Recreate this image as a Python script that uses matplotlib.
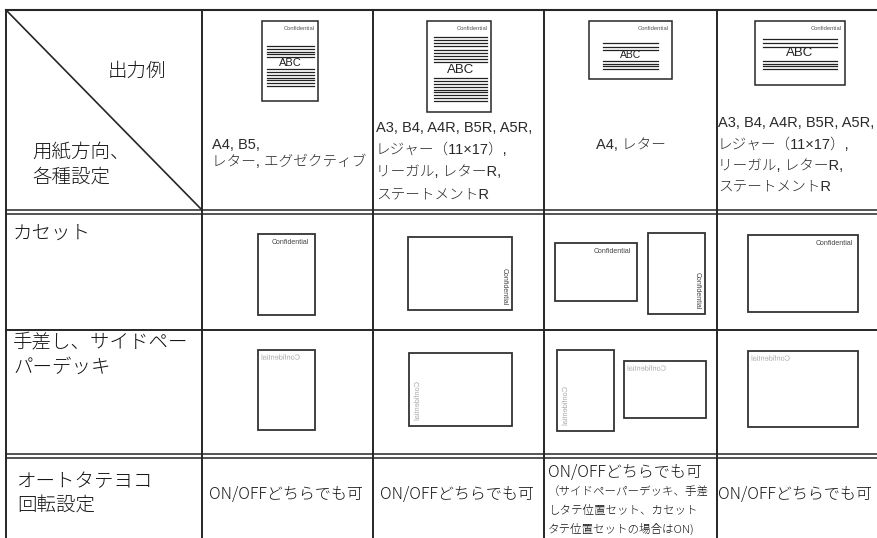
import matplotlib
matplotlib.use('Agg')
import matplotlib.pyplot as plt
from matplotlib.patches import Rectangle, PathPatch
from matplotlib.textpath import TextPath
from matplotlib.font_manager import FontProperties
from matplotlib.transforms import Affine2D

plt.rcParams['font.family'] = ['Noto Sans CJK JP', 'DejaVu Sans']

# --- table contents ---
corner_top = '出力例'
corner_bottom = ['用紙方向、', '各種設定']
row_labels = [['カセット'], ['手差し、サイドペー', 'パーデッキ'], ['オートタテヨコ', '回転設定']]
paper_sizes = [
    ['A4, B5,', 'レター, エグゼクティブ'],
    ['A3, B4, A4R, B5R, A5R,', 'レジャー（11×17）,', 'リーガル, レターR,', 'ステートメントR'],
    ['A4, レター'],
    ['A3, B4, A4R, B5R, A5R,', 'レジャー（11×17）,', 'リーガル, レターR,', 'ステートメントR'],
]
auto_rotate = ['ON/OFFどちらでも可'] * 4
auto_note = ['（サイドペーパーデッキ、手差', 'しタテ位置セット、カセット', 'タテ位置セットの場合はON)']

# sample output icons: number of text lines above / below "ABC"
sample_lines_top = [5, 9, 3, 3]
sample_lines_bottom = [7, 9, 4, 4]

# --- layout (pixels) ---
col_x = [6, 202, 373, 544, 717, 877]
# header icons: box, top lines span, abc y, bottom lines span, line x span, abc size
hdr_icons = [
    ((262, 21, 318, 101), (46, 57), 63, (69, 86), (267, 314), 8),
    ((427, 21, 491, 112), (37, 62), 70, (78, 101), (434, 487), 9.5),
    ((589, 21, 672, 79), (43, 50), 55.5, (61, 69), (603, 658), 7.5),
    ((755, 21, 845, 85), (39, 47), 53, (61, 69), (763, 837), 9.5),
]
# paper placement for cassette / manual feed rows: (box, label position)
cassette_pages = [
    [((258, 234, 315, 315), 'top')],
    [((408, 237, 512, 310), 'side')],
    [((555, 243, 637, 301), 'top'), ((648, 233, 705, 314), 'side')],
    [((748, 235, 858, 312), 'top')],
]
manual_pages = [
    [((258, 350, 315, 430), 'top')],
    [((409, 353, 512, 426), 'side')],
    [((557, 350, 614, 431), 'side'), ((624, 361, 706, 418), 'top')],
    [((748, 351, 858, 427), 'top')],
]

line_c = '#262626'
jp_light = dict(color='#141414', fontweight='light')
size_family = ['Liberation Sans', 'Noto Sans CJK JP', 'DejaVu Sans']

fig = plt.figure(figsize=(8.77, 5.38), dpi=100)
ax = fig.add_axes([0, 0, 1, 1])
ax.set_xlim(0, 877)
ax.set_ylim(538, 0)
ax.axis('off')

# grid
ax.plot([6, 877], [10, 10], color=line_c, lw=1.5)
for y in (210, 214, 454, 458):
    ax.plot([6, 877], [y, y], color=line_c, lw=1.1)
ax.plot([6, 877], [330, 330], color=line_c, lw=1.4)
for x in col_x[:-1]:
    ax.plot([x, x], [10, 540], color=line_c, lw=1.4)
ax.plot([6, 202], [10, 210], color=line_c, lw=1.2)

# corner cell
ax.text(137, 71, corner_top, fontsize=14, ha='center', va='center', **jp_light)
for i, s in enumerate(corner_bottom):
    ax.text(32, 152 + i * 25, s, fontsize=14, ha='left', va='center', **jp_light)

# row labels
row_pos = [(13, 233), (13, 343), (17, 482)]
for lines, (x0, y0) in zip(row_labels, row_pos):
    for i, s in enumerate(lines):
        ax.text(x0, y0 + i * 24, s, fontsize=14, ha='left', va='center', **jp_light)

# paper size texts in header
size_pos = [(212, 145, 17, 'left'), (376, 128, 22, 'left'), (630.5, 145, 0, 'center'), (718, 123, 21.3, 'left')]
for lines, (x0, y0, dy, ha) in zip(paper_sizes, size_pos):
    for i, s in enumerate(lines):
        ax.text(x0, y0 + i * dy, s, fontsize=10.5, family=size_family, ha=ha, va='center',
                color='#2a2a2a', fontweight='light')

conf_prop = FontProperties(family='Liberation Sans')

# header sample icons
for (box, top, abc_y, bot, xs, abc_fs), nt, nb in zip(hdr_icons, sample_lines_top, sample_lines_bottom):
    x0, y0, x1, y1 = box
    ax.add_patch(Rectangle((x0, y0), x1 - x0, y1 - y0, fill=False, ec=line_c, lw=1.1))
    ax.text(x1 - 3, y0 + 8, 'Confidential', fontsize=4.2, color='#555555',
            ha='right', va='center', fontproperties=conf_prop)
    for span, n in ((top, nt), (bot, nb)):
        for k in range(n):
            yy = span[0] + (span[1] - span[0]) * k / max(n - 1, 1)
            ax.plot(xs, [yy, yy], color='#222222', lw=0.9)
    ax.text((xs[0] + xs[1]) / 2, abc_y, 'ABC', fontsize=abc_fs, color='#222222',
            ha='center', va='center', fontproperties=conf_prop)

# cassette row: label printed normally
for pages in cassette_pages:
    for (x0, y0, x1, y1), pos in pages:
        ax.add_patch(Rectangle((x0, y0), x1 - x0, y1 - y0, fill=False, ec='#333333', lw=1.3))
        if pos == 'top':
            ax.text(x1 - 5.5, y0 + 8.5, 'Confidential', fontsize=5, color='#444444',
                    ha='right', va='center', fontproperties=conf_prop)
        else:
            ax.text(x1 - 8, y1 - 4.5, 'Confidential', fontsize=5, color='#444444', rotation=-90,
                    ha='center', va='bottom', fontproperties=conf_prop)

# manual feed row: label printed mirrored (seen through the sheet)
tp = TextPath((0, 0), 'Confidential', size=1, prop=conf_prop)
tw = tp.get_extents().width
for pages in manual_pages:
    for (x0, y0, x1, y1), pos in pages:
        ax.add_patch(Rectangle((x0, y0), x1 - x0, y1 - y0, fill=False, ec='#333333', lw=1.3))
        s = 38 / tw
        if pos == 'top':
            tr = Affine2D().scale(-s, -s).translate(x0 + 4 + 38, y0 + 7 + 0.36 * s)
        else:
            tr = Affine2D([[0, -s, x0 + 10], [s, 0, y1 - 6 - 38], [0, 0, 1]])
        ax.add_patch(PathPatch(tp, transform=tr + ax.transData, fc='#a8a8a8', ec='none'))

# auto rotate row
for j, s in enumerate(auto_rotate):
    xc = (col_x[j + 1] + col_x[j + 2]) / 2
    if j == 2:
        ax.text(548, 473, s, fontsize=11.5, ha='left', va='center', **jp_light)
        for i, n in enumerate(auto_note):
            ax.text(548, 493 + i * 18.5, n, fontsize=8.3, ha='left', va='center', **jp_light)
    else:
        ax.text(xc - 2, 495, s, fontsize=11.5, ha='center', va='center', **jp_light)

fig.savefig('out.png', dpi=100)
